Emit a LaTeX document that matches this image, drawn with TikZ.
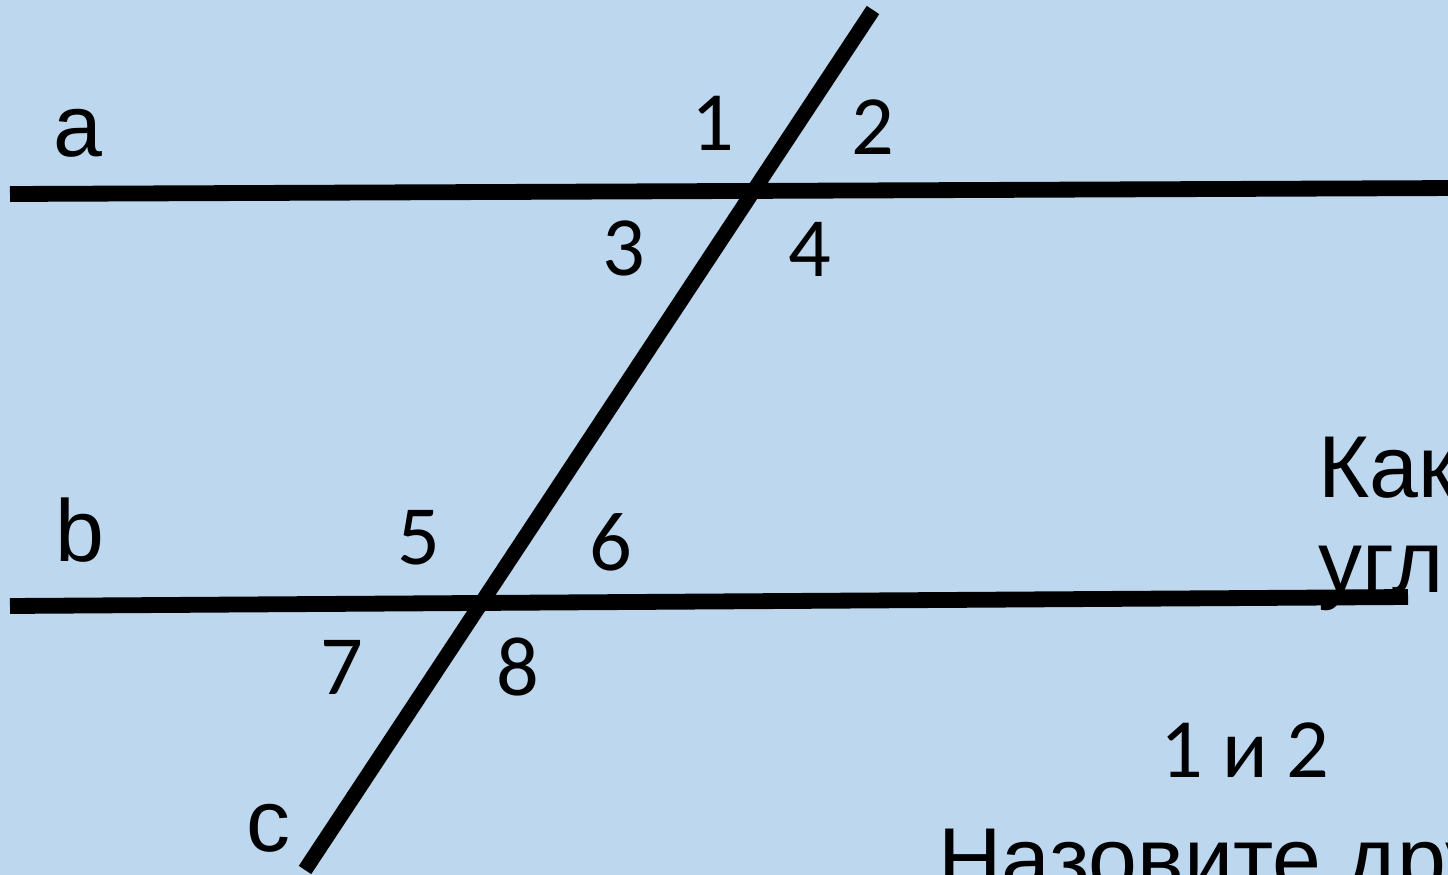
\documentclass[tikz,border=0pt]{standalone}
\usepackage{fontspec}
\setmainfont{Liberation Sans}
\newfontfamily\calib{Carlito}
\definecolor{bgblue}{RGB}{189,215,238}
\tikzset{
  ln/.style={line width=9pt, black},
  lnc/.style={line width=8.5pt, black},
  num/.style={inner sep=0pt, font=\calib\fontsize{48}{56}\selectfont},
  lett/.style={inner sep=0pt, font=\fontsize{50}{58}\selectfont},
  txt/.style={inner sep=0pt, anchor=base west, font=\fontsize{50}{58}\selectfont}
}
\begin{document}
\begin{tikzpicture}[x=0.02cm, y=-0.02cm]
\fill[bgblue] (0,0) rectangle (1448,875);
\useasboundingbox (0,0) rectangle (1448,875);
\begin{scope}
\clip (0,0) rectangle (1448,875);
% text on the right
\node[txt] (kak) at (1318,497) {Как};
\node[txt] (ugly) at (1318,592) {углы};
\node[num] (oneandtwo) at (1245,750) {1 и 2};
\node[txt] (nazov) at (938,889) {Назовите другие};
% lines
\coordinate (aL) at (10,194);
\coordinate (aR) at (1460,188);
\coordinate (bL) at (10,606);
\coordinate (bR) at (1408,597);
\coordinate (cT) at (873,10);
\coordinate (cB) at (305,870);
\draw[ln] (aL) -- (aR);
\draw[ln] (bL) -- (bR);
\draw[lnc] (cT) -- (cB);
\end{scope}
% labels
\node[lett] (la) at (78,133) {a};
\node[lett] (lb) at (80,530) {b};
\node[lett] (lc) at (268,828) {c};
\node[num] (n1) at (713,123) {1};
\node[num] (n2) at (873,127) {2};
\node[num] (n3) at (624,248) {3};
\node[num] (n4) at (810,249) {4};
\node[num] (n5) at (419,538) {5};
\node[num] (n6) at (611,542) {6};
\node[num] (n7) at (342,667) {7};
\node[num] (n8) at (518,667) {8};
\end{tikzpicture}
\end{document}
